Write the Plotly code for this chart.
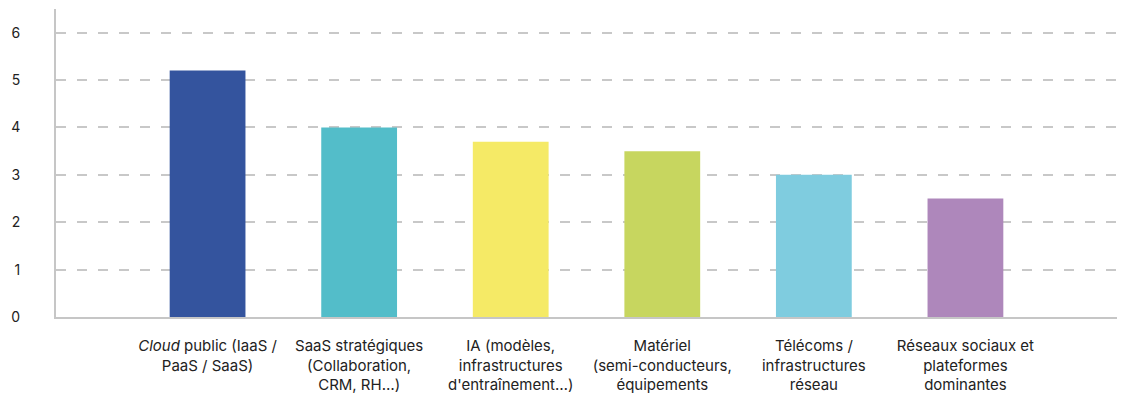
import plotly.graph_objects as go

categories = [
    "<i>Cloud</i> public (IaaS /<br>PaaS / SaaS)",
    "SaaS stratégiques<br>(Collaboration,<br>CRM, RH…)",
    "IA (modèles,<br>infrastructures<br>d'entraînement…)",
    "Matériel<br>(semi-conducteurs,<br>équipements",
    "Télécoms /<br>infrastructures<br>réseau",
    "Réseaux sociaux et<br>plateformes<br>dominantes",
]
values = [5.2, 4.0, 3.7, 3.5, 3.0, 2.5]
colors = ["#34549E", "#53BDC9", "#F5EA66", "#C7D65F", "#7FCCDF", "#AE87BB"]
y_ticks = [0, 1, 2, 3, 4, 5, 6]

positions = list(range(len(categories)))

fig = go.Figure(
    go.Bar(
        x=positions,
        y=values,
        marker=dict(color=colors, line=dict(width=0)),
        width=0.5,
        hoverinfo="skip",
    )
)

fig.update_layout(
    width=1121,
    height=396,
    margin=dict(l=56, r=4, t=9, b=79),
    paper_bgcolor="white",
    plot_bgcolor="white",
    font=dict(family="Inter, Roboto, sans-serif", size=15, color="#222222"),
    showlegend=False,
    bargap=0.5,
)

fig.update_xaxes(
    range=[-1, 6],
    tickmode="array",
    tickvals=positions,
    ticktext=categories,
    showgrid=False,
    zeroline=False,
    showline=True,
    linecolor="#C6C6C6",
    linewidth=2,
    ticks="outside",
    ticklen=0,
    ticklabelstandoff=14,
    tickfont=dict(size=15, color="#222222"),
    automargin=False,
)

fig.update_yaxes(
    range=[0, 6.5],
    tickmode="array",
    tickvals=y_ticks,
    showgrid=True,
    gridcolor="#C8C8C8",
    gridwidth=2,
    griddash="10px,11px",
    zeroline=False,
    showline=True,
    linecolor="#C6C6C6",
    linewidth=2,
    ticks="",
    ticklabelstandoff=31,
    tickfont=dict(size=14, color="#222222"),
    automargin=False,
)

fig.write_html("out.html")
